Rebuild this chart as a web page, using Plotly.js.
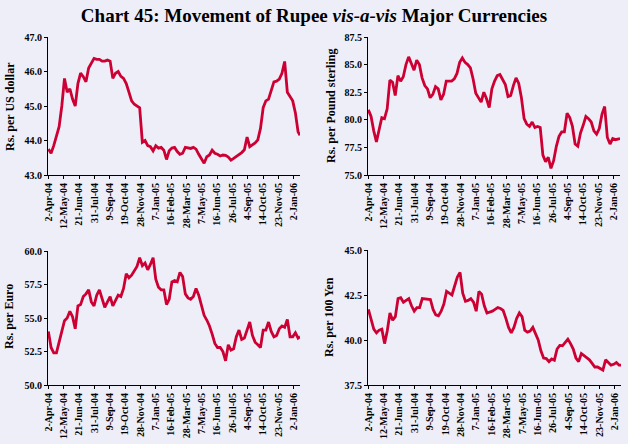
<!DOCTYPE html>
<html><head><meta charset="utf-8">
<script src="https://cdn.plot.ly/plotly-3.0.1.min.js"></script>
<style>html,body{margin:0;padding:0;background:#EEEEF8;}#c{width:628px;height:444px;}</style>
</head><body><div id="c"></div>
<script>
var dates = ["2004-04-02","2004-04-09","2004-04-16","2004-04-23","2004-04-30","2004-05-07","2004-05-14","2004-05-21","2004-05-28","2004-06-04","2004-06-11","2004-06-18","2004-06-25","2004-07-02","2004-07-09","2004-07-16","2004-07-23","2004-07-30","2004-08-06","2004-08-13","2004-08-20","2004-08-27","2004-09-03","2004-09-10","2004-09-17","2004-09-24","2004-10-01","2004-10-08","2004-10-15","2004-10-22","2004-10-29","2004-11-05","2004-11-12","2004-11-19","2004-11-26","2004-12-03","2004-12-10","2004-12-17","2004-12-24","2004-12-31","2005-01-07","2005-01-14","2005-01-21","2005-01-28","2005-02-04","2005-02-11","2005-02-18","2005-02-25","2005-03-04","2005-03-11","2005-03-18","2005-03-25","2005-04-01","2005-04-08","2005-04-15","2005-04-22","2005-04-29","2005-05-06","2005-05-13","2005-05-20","2005-05-27","2005-06-03","2005-06-10","2005-06-17","2005-06-24","2005-07-01","2005-07-08","2005-07-15","2005-07-22","2005-07-29","2005-08-05","2005-08-12","2005-08-19","2005-08-26","2005-09-02","2005-09-09","2005-09-16","2005-09-23","2005-09-30","2005-10-07","2005-10-14","2005-10-21","2005-10-28","2005-11-04","2005-11-11","2005-11-18","2005-11-25","2005-12-02","2005-12-09","2005-12-16","2005-12-23","2005-12-30","2006-01-06","2006-01-13","2006-01-18"];

var usd = [43.75,43.63,43.85,44.1,44.4,45.0,45.8,45.4,45.5,45.2,45.0,45.65,45.95,45.85,45.7,46.1,46.25,46.38,46.35,46.35,46.3,46.3,46.33,46.3,45.8,45.95,46.0,45.86,45.8,45.65,45.4,45.15,45.05,45.0,44.95,43.95,44.0,43.85,43.82,43.7,43.85,43.78,43.8,43.72,43.45,43.7,43.78,43.8,43.68,43.6,43.63,43.8,43.78,43.77,43.8,43.75,43.6,43.45,43.34,43.53,43.58,43.72,43.63,43.6,43.55,43.58,43.57,43.52,43.43,43.48,43.53,43.58,43.65,43.73,44.1,43.82,43.88,43.93,44.02,44.35,44.95,45.15,45.2,45.47,45.7,45.72,45.78,45.95,46.29,45.4,45.28,45.15,44.8,44.25,44.15];

var gbp = [80.9,80.3,79.0,78.0,79.1,80.2,80.1,81.0,83.6,83.4,82.2,84.0,83.5,83.9,85.0,85.7,85.1,84.5,85.4,85.0,83.8,83.1,82.8,82.0,82.3,83.0,82.8,81.8,82.3,83.5,83.5,83.5,83.7,84.2,85.2,85.6,85.2,85.0,84.7,83.7,82.4,82.0,81.6,82.5,81.9,81.1,82.8,83.5,84.0,84.1,83.7,83.2,82.1,82.2,83.1,83.8,83.3,82.0,80.1,79.6,79.4,79.8,79.3,79.4,79.3,76.8,76.2,76.6,75.6,76.3,77.6,78.5,78.9,78.9,80.6,80.2,79.4,77.8,77.6,78.8,79.5,80.3,80.1,79.8,79.0,78.7,79.2,80.5,81.2,78.4,77.8,78.3,78.2,78.3,78.3];

var eur = [54.0,52.8,52.4,52.4,53.2,54.1,54.8,55.0,55.5,55.1,54.2,55.9,56.0,56.6,56.8,57.1,56.2,55.9,56.7,57.1,56.5,55.8,56.2,56.6,55.9,56.3,56.7,56.6,57.2,58.3,58.0,58.2,58.5,58.85,59.5,58.9,59.1,58.6,59.0,59.5,57.9,57.3,57.1,57.1,56.0,56.4,57.7,57.8,57.7,58.4,58.1,56.8,56.5,56.4,56.6,57.2,56.7,56.0,55.2,54.85,54.4,53.8,53.1,52.8,52.8,52.5,51.8,53.0,52.6,52.7,53.6,54.1,53.4,53.5,54.2,54.7,53.7,53.2,53.0,52.8,54.1,54.1,54.7,54.0,53.6,53.7,54.2,54.4,54.3,54.9,53.6,53.6,53.9,53.5,53.6];

var jpy = [41.7,41.2,40.6,40.4,40.55,40.6,39.8,40.5,41.5,41.1,41.3,42.3,42.35,42.1,42.2,42.3,41.9,41.6,41.8,41.8,42.3,42.28,42.3,42.25,41.7,41.4,41.35,41.6,42.0,42.7,42.6,42.5,43.0,43.5,43.75,42.6,42.15,42.2,42.3,42.1,41.6,42.7,42.55,41.9,41.5,41.55,41.6,41.7,41.8,41.75,41.64,41.2,40.7,40.4,40.7,41.2,41.5,41.3,40.55,40.44,40.5,40.7,40.3,40.0,39.4,39.0,38.97,38.8,38.95,38.88,39.5,39.7,39.68,39.9,40.05,39.8,39.5,39.0,38.8,39.25,39.15,39.05,38.9,38.7,38.5,38.5,38.4,38.33,38.9,38.75,38.6,38.65,38.75,38.6,38.6];

var tickDates = ["2004-04-02","2004-05-12","2004-06-21","2004-07-31","2004-09-09","2004-10-19","2004-11-28","2005-01-07","2005-02-16","2005-03-28","2005-05-07","2005-06-16","2005-07-26","2005-09-04","2005-10-14","2005-11-23","2006-01-02"];

var yTitles = ["Rs. per US dollar","Rs. per Pound sterling","Rs. per Euro","Rs. per 100 Yen"];
var yRanges = [[43,47],[75,87.5],[50,60],[37.5,45]];
var yDticks = [1,2.5,2.5,2.5];
var chartTitle = "Chart 45: Movement of Rupee <i>vis-a-vis</i> Major Currencies";

var W = 628, H = 444;
var lineColor = "#CC0033";
var tickFont = {family: "Liberation Serif, Times New Roman, serif", size: 10, color: "#000", weight: "bold"};
var series = [usd, gbp, eur, jpy];

// pixel boxes [left, right, top, bottom]
var boxes = [[48,300,37,175],[368,620,37,175],[48,300,251,385],[368,621,250,385]];
var titlePos = [[10,107],[331,106],[9,317],[329,317]];

var traces = [];
var layout = {
  width: W, height: H,
  margin: {l:0,r:0,t:0,b:0},
  paper_bgcolor: "#EEEEF8", plot_bgcolor: "#EEEEF8",
  showlegend: false,
  annotations: [],
  title: {text: chartTitle, x: 0.5, xanchor: "center", y: 1 - 15/H, yanchor: "middle",
          font: {family: "Liberation Serif, Times New Roman, serif", size: 19, color: "#000", weight: "bold"}}
};
for (var k = 0; k < 4; k++) {
  var n = k === 0 ? "" : String(k + 1);
  traces.push({x: dates, y: series[k], type: "scatter", mode: "lines",
    line: {color: lineColor, width: 2.8}, xaxis: "x" + n, yaxis: "y" + n, hoverinfo: "skip"});
  var b = boxes[k];
  layout["xaxis" + n] = {
    domain: [b[0]/W, b[1]/W], anchor: "y" + n, type: "date",
    range: ["2004-04-01", "2006-01-18"],
    tickmode: "array", tickvals: tickDates, tickformat: "%-d-%b-%y",
    tickangle: -90, tickfont: tickFont, ticks: "outside", ticklen: 3, tickcolor: "#000",
    showline: true, linecolor: "#000", linewidth: 1, showgrid: false, zeroline: false, fixedrange: true
  };
  layout["yaxis" + n] = {
    domain: [1 - b[3]/H, 1 - b[2]/H], anchor: "x" + n,
    range: yRanges[k], dtick: yDticks[k], tick0: yRanges[k][0], tickformat: ".1f",
    tickfont: tickFont, ticks: "outside", ticklen: 3, tickcolor: "#000",
    showline: true, linecolor: "#000", linewidth: 1, showgrid: false, zeroline: false, fixedrange: true
  };
  layout.annotations.push({
    text: yTitles[k], xref: "paper", yref: "paper",
    x: titlePos[k][0]/W, y: 1 - titlePos[k][1]/H, xanchor: "center", yanchor: "middle",
    textangle: -90, showarrow: false,
    font: {family: "Liberation Serif, Times New Roman, serif", size: 12, color: "#000", weight: "bold"}
  });
}
Plotly.newPlot("c", traces, layout, {staticPlot: true, displayModeBar: false});
</script>
</body></html>
